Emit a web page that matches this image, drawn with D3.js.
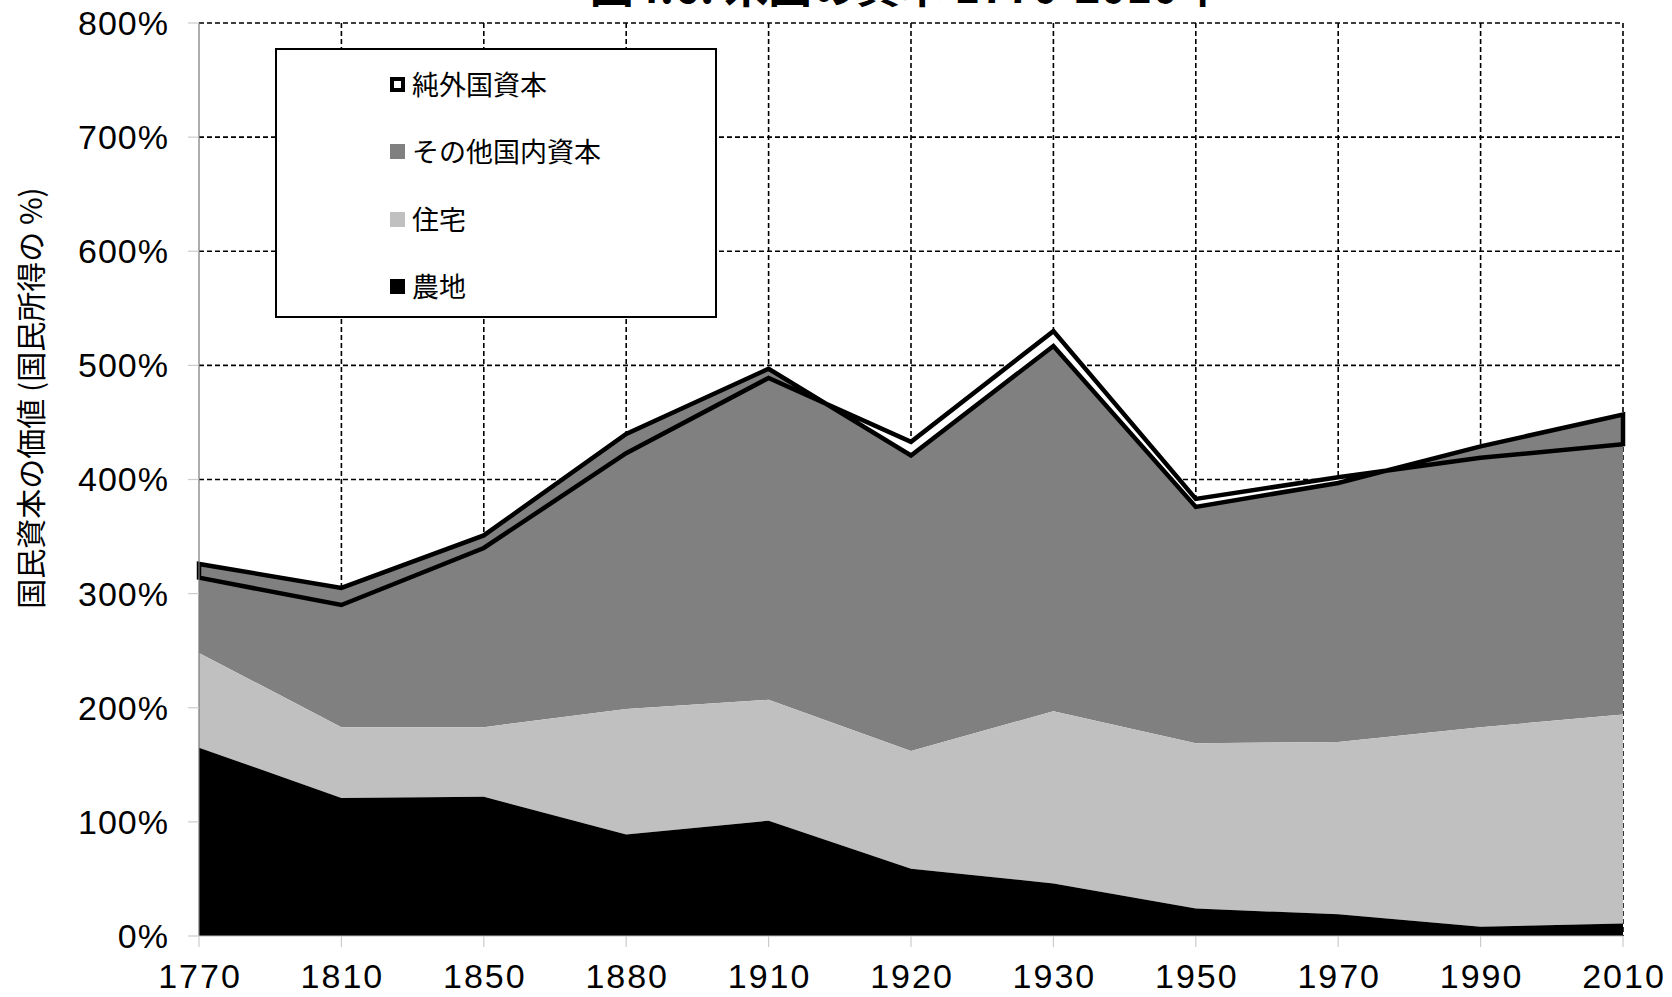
<!DOCTYPE html>
<html><head><meta charset="utf-8">
<script src="https://cdn.jsdelivr.net/npm/d3@7"></script>
<style>html,body{margin:0;padding:0;background:#fff;overflow:hidden}</style>
</head><body>
<svg id="chart" width="1672" height="997"></svg>
<script>
const years = ["1770","1810","1850","1880","1910","1920","1930","1950","1970","1990","2010"];
const farmland = [165,121,122,89,101,59,46,24,19,8,11];
const housing = [83,62,61,110,106,103,151,145,151,175,183];
const otherDomestic = [78,122,168,241,290,259,320,207,227,246,263];
const netForeign = [-12,-15,-11,-17,-8,12,13,7,5,-10,-26];
const yTicks = [0,100,200,300,400,500,600,700,800];
const seriesNames = ["純外国資本","その他国内資本","住宅","農地"];
const titleText = "図4.6. 米国の資本 1770-2010年";
const yTitle = "国民資本の価値 (国民所得の %)";

const svg = d3.select("#chart");
const L = 199, R = 1623, T = 23, B = 936;
const x = d3.scalePoint().domain(years).range([L, R]);
const y = d3.scaleLinear().domain([0, 800]).range([B, T]);

const data = years.map((yr, i) => {
  const f = farmland[i], h = f + housing[i], d = h + otherDomestic[i], t = d + netForeign[i];
  return {yr, f, h, d, t};
});

// title (clipped at top as in the reference)
svg.append("text").attr("x", 906).attr("y", 3).attr("text-anchor", "middle")
  .attr("font-family", "Noto Sans CJK JP").attr("font-weight", "bold").attr("font-size", 44)
  .text(titleText);

// grid
const grid = svg.append("g").attr("stroke", "#000").attr("stroke-width", 1.6).attr("stroke-dasharray", "5,3");
yTicks.filter(v => v > 0).forEach(v => {
  grid.append("line").attr("x1", L).attr("x2", R).attr("y1", y(v)).attr("y2", y(v));
});
years.slice(1).forEach(yr => {
  grid.append("line").attr("x1", x(yr)).attr("x2", x(yr)).attr("y1", T).attr("y2", B);
});

// areas
const aForeign = d3.area().x(d => x(d.yr)).y0(y(0)).y1(d => y(d.t));
const aOther = d3.area().x(d => x(d.yr)).y0(d => y(d.h)).y1(d => y(d.d));
const aHousing = d3.area().x(d => x(d.yr)).y0(d => y(d.f)).y1(d => y(d.h));
const aFarm = d3.area().x(d => x(d.yr)).y0(y(0)).y1(d => y(d.f));
svg.append("path").datum(data).attr("d", aForeign).attr("fill", "#fff");
svg.append("path").datum(data).attr("d", aOther).attr("fill", "#808080");
svg.append("path").datum(data).attr("d", aHousing).attr("fill", "#c0c0c0");
svg.append("path").datum(data).attr("d", aFarm).attr("fill", "#000");

// foreign outline (polygon between domestic total and total)
const outlinePts = data.map(d => [x(d.yr), y(d.t)]).concat(data.slice().reverse().map(d => [x(d.yr), y(d.d)]));
svg.append("path").attr("d", d3.line()(outlinePts) + "Z")
  .attr("fill", "none").attr("stroke", "#000").attr("stroke-width", 4.5).attr("stroke-linejoin", "miter");

// axes
svg.append("line").attr("x1", L).attr("x2", L).attr("y1", T).attr("y2", B).attr("stroke", "#777").attr("stroke-width", 1.2);
svg.append("line").attr("x1", L).attr("x2", R).attr("y1", B).attr("y2", B).attr("stroke", "#bbb").attr("stroke-width", 1.2);
yTicks.forEach(v => {
  svg.append("line").attr("x1", L - 11).attr("x2", L).attr("y1", y(v)).attr("y2", y(v)).attr("stroke", "#ccc").attr("stroke-width", 1.2);
  svg.append("text").attr("x", 169).attr("y", y(v)).attr("dy", "0.35em").attr("text-anchor", "end")
    .attr("letter-spacing", 1).attr("font-family", "Liberation Sans, Arial").attr("font-size", 34).text(v + "%");
});
years.forEach(yr => {
  svg.append("line").attr("x1", x(yr)).attr("x2", x(yr)).attr("y1", B).attr("y2", B + 11).attr("stroke", "#ccc").attr("stroke-width", 1.2);
  svg.append("text").attr("x", x(yr) + 1).attr("y", 988).attr("text-anchor", "middle")
    .attr("letter-spacing", 2).attr("font-family", "Liberation Sans, Arial").attr("font-size", 34).text(yr);
});

// y title
svg.append("text").attr("transform", "translate(42,398) rotate(-90)").attr("text-anchor", "middle")
  .attr("font-family", "Noto Sans CJK JP").attr("font-size", 30).text(yTitle);

// legend
const lg = svg.append("g");
lg.append("rect").attr("x", 276).attr("y", 49).attr("width", 440).attr("height", 268)
  .attr("fill", "#fff").attr("stroke", "#000").attr("stroke-width", 2);
const swatch = [{fill:"#fff", stroke:"#000"},{fill:"#808080"},{fill:"#c0c0c0"},{fill:"#000"}];
const rowY = [85, 152, 220, 287];
seriesNames.forEach((n, i) => {
  const s = swatch[i];
  if (s.stroke) {
    lg.append("rect").attr("x", 392).attr("y", rowY[i] - 6).attr("width", 11).attr("height", 11)
      .attr("fill", s.fill).attr("stroke", s.stroke).attr("stroke-width", 4);
  } else {
    lg.append("rect").attr("x", 390).attr("y", rowY[i] - 8).attr("width", 15).attr("height", 15).attr("fill", s.fill);
  }
  lg.append("text").attr("x", 412).attr("y", rowY[i]).attr("dy", "0.36em")
    .attr("font-family", "Noto Sans CJK JP").attr("font-size", 27).text(n);
});
</script>
</body></html>
